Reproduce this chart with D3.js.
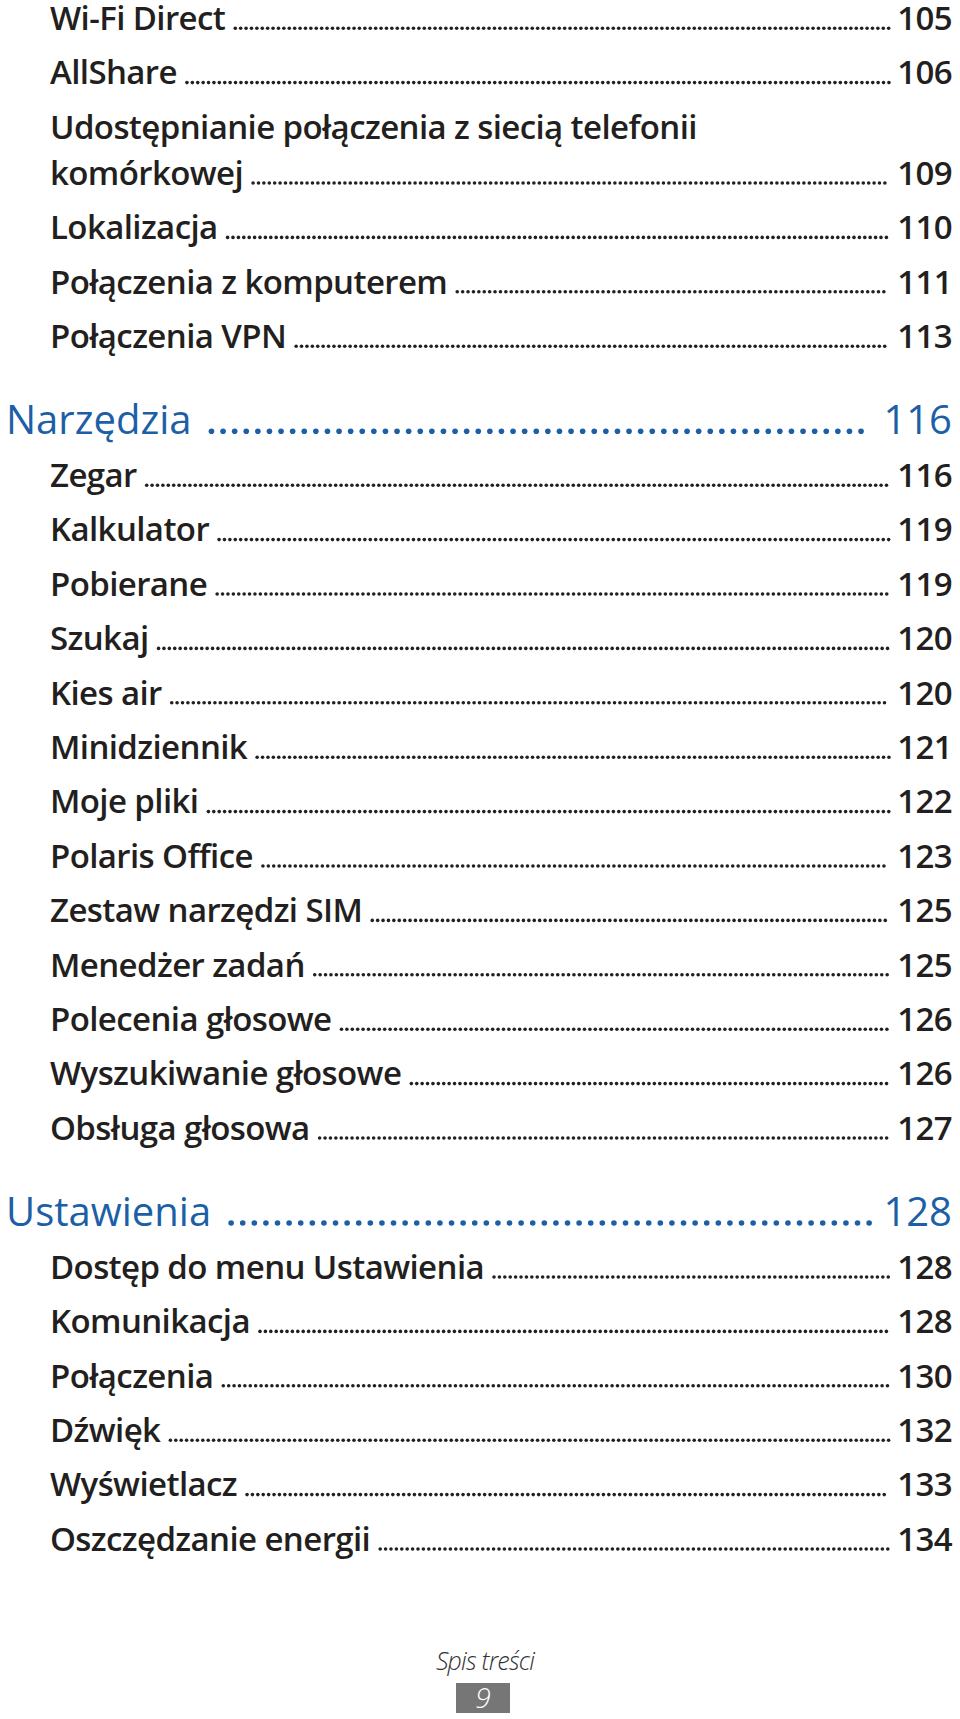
<!DOCTYPE html>
<html><head><meta charset="utf-8">
<script src="https://cdn.jsdelivr.net/npm/d3@7"></script>
<style>body{margin:0;background:#fff}</style>
</head><body>
<svg id="toc" width="960" height="1719"></svg>
<script>
// entry titles (wrapped titles split by "|"), page numbers, level 0 = section heading
const titles = ['Wi-Fi Direct', 'AllShare', 'Udostępnianie połączenia z siecią telefonii|komórkowej', 'Lokalizacja',
  'Połączenia z komputerem', 'Połączenia VPN', 'Narzędzia', 'Zegar', 'Kalkulator', 'Pobierane', 'Szukaj', 'Kies air',
  'Minidziennik', 'Moje pliki', 'Polaris Office', 'Zestaw narzędzi SIM', 'Menedżer zadań', 'Polecenia głosowe',
  'Wyszukiwanie głosowe', 'Obsługa głosowa', 'Ustawienia', 'Dostęp do menu Ustawienia', 'Komunikacja', 'Połączenia',
  'Dźwięk', 'Wyświetlacz', 'Oszczędzanie energii'];
const pages = [105, 106, 109, 110, 111, 113, 116, 116, 119, 119, 120, 120, 121, 122, 123, 125, 125, 126, 126, 127,
  128, 128, 128, 130, 132, 133, 134];
const levels = [1, 1, 1, 1, 1, 1, 0, 1, 1, 1, 1, 1, 1, 1, 1, 1, 1, 1, 1, 1, 0, 1, 1, 1, 1, 1, 1];
const footerLabel = 'Spis treści';
const pageNo = '9';

const svg = d3.select('#toc');
const font = '"Open Sans", sans-serif';
const blue = '#1d5fa6', ink = '#231f20';
const left = 50, headLeft = 6, right = 952;
const rowGap = 54.4, wrapGap = 46, headBefore = 86, headAfter = 53;

// walk the entries to get baselines
let y = 30, prev = null;
const rows = titles.map((t, i) => {
  if (prev !== null) {
    if (levels[i] === 0) y += headBefore;
    else if (levels[prev] === 0) y += headAfter;
    else y += rowGap;
  }
  const lines = t.split('|');
  const base = y;
  y += (lines.length - 1) * wrapGap;
  prev = i;
  return {lines, page: pages[i], level: levels[i], top: base, last: y};
});

const g = svg.selectAll('g.entry').data(rows).enter().append('g').attr('class', 'entry');

g.each(function (d) {
  const el = d3.select(this);
  const head = d.level === 0;
  const size = head ? 40 : 33;
  const color = head ? blue : ink;
  const x0 = head ? headLeft : left;
  let endX = x0;
  d.lines.forEach((ln, k) => {
    const t = el.append('text')
      .attr('x', x0).attr('y', d.top + k * wrapGap)
      .attr('font-family', font).attr('font-size', size)
      .attr('font-weight', head ? 500 : 600)
      .attr('letter-spacing', head ? 0 : -0.6)
      .attr('fill', color).text(ln);
    endX = x0 + t.node().getComputedTextLength();
  });
  const num = el.append('text')
    .attr('x', right).attr('y', d.last)
    .attr('text-anchor', 'end')
    .attr('font-family', font).attr('font-size', size)
    .attr('font-weight', head ? 500 : 600).attr('letter-spacing', head ? 0 : -0.6)
    .attr('fill', color).text(d.page);
  const numStart = right - num.node().getComputedTextLength();

  const step = head ? 11.6 : 5.4;
  const r = head ? 2.8 : 1.8;
  const from = endX + (head ? 20 : 10), to = numStart - (head ? 12 : 8);
  const dots = d3.range(from, to, step);
  el.selectAll('circle').data(dots).enter().append('circle')
    .attr('cx', v => v).attr('cy', d.last - r)
    .attr('r', r).attr('fill', color);
});

// footer
svg.append('text').attr('x', 485).attr('y', 1670).attr('text-anchor', 'middle')
  .attr('font-family', font).attr('font-size', 25).attr('font-weight', 300)
  .attr('font-style', 'italic').attr('letter-spacing', -0.8).attr('fill', '#333').text(footerLabel);
svg.append('rect').attr('x', 456).attr('y', 1683).attr('width', 54).attr('height', 30).attr('fill', '#767676');
svg.append('text').attr('x', 483).attr('y', 1708).attr('text-anchor', 'middle')
  .attr('font-family', font).attr('font-size', 28).attr('font-weight', 300)
  .attr('font-style', 'italic').attr('fill', '#fff').text(pageNo);
</script>
</body></html>
